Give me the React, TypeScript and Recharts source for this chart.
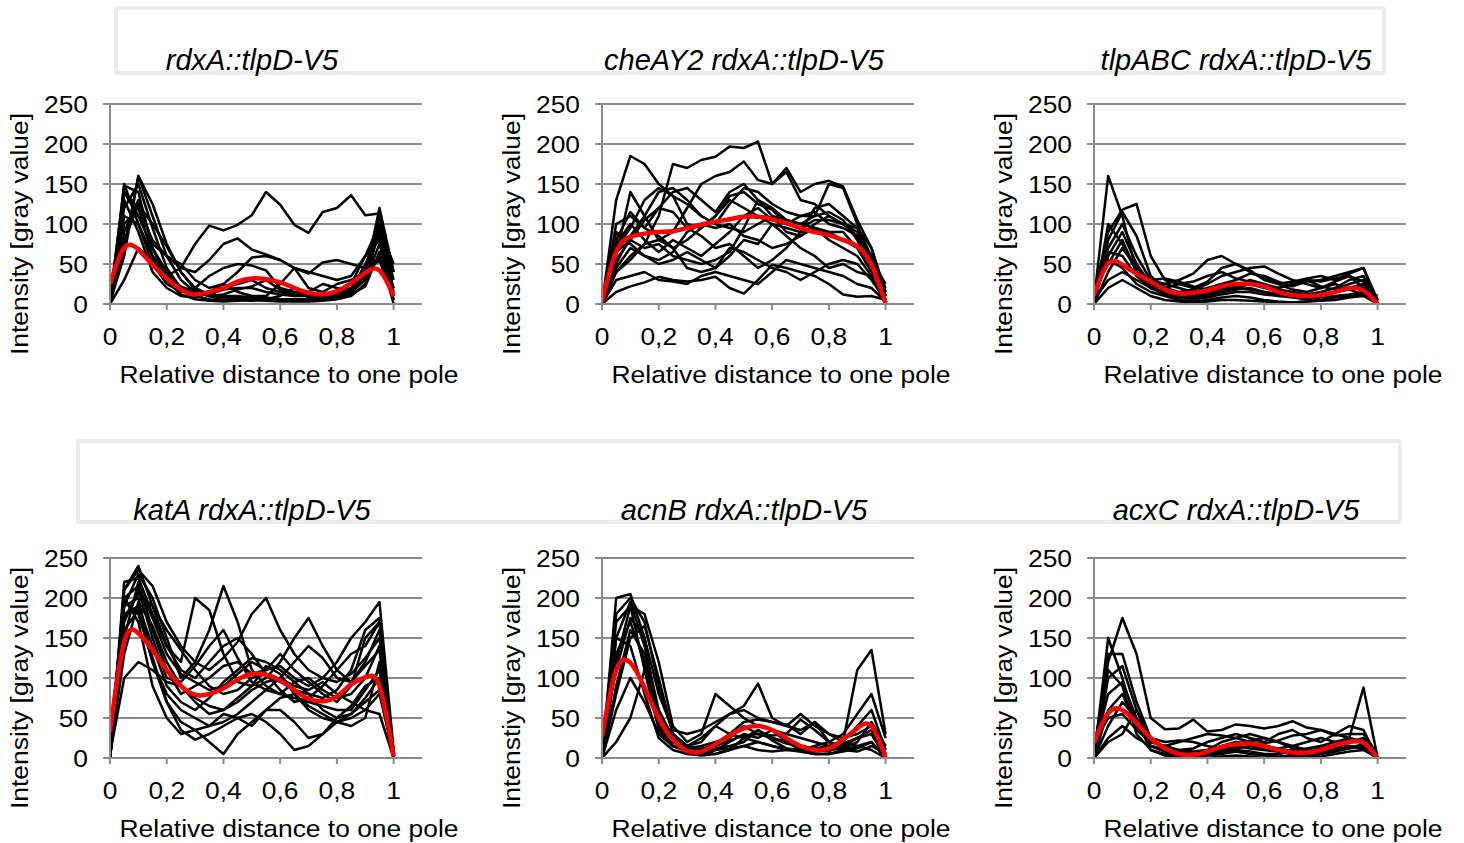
import React from 'react';
import { LineChart, Line, XAxis, YAxis, CartesianGrid } from 'recharts';

// ---------- shared axis data ----------
const X_POS = [0, 0.05, 0.1, 0.15, 0.2, 0.25, 0.3, 0.35, 0.4, 0.45, 0.5, 0.55, 0.6, 0.65, 0.7, 0.75, 0.8, 0.85, 0.9, 0.95, 1];
const X_TICKS = [0, 0.2, 0.4, 0.6, 0.8, 1];
const Y_TICKS = [0, 50, 100, 150, 200, 250];
const X_LABEL = 'Relative distance to one pole';
const TITLES = [
  'rdxA::tlpD-V5',
  'cheAY2 rdxA::tlpD-V5',
  'tlpABC rdxA::tlpD-V5',
  'katA rdxA::tlpD-V5',
  'acnB rdxA::tlpD-V5',
  'acxC rdxA::tlpD-V5',
];
const Y_LABELS = [
  'Intensity [gray value]',
  'Intenstiy [gray value]',
  'Intensity [gray value]',
  'Intensity [gray value]',
  'Intenstiy [gray value]',
  'Intensity [gray value]',
];

// ---------- panel 1: rdxA::tlpD-V5 ----------
const P1_MEAN = [25, 70, 68, 49, 32, 18, 12, 15, 20, 28, 32, 31, 27, 20, 14, 12, 16, 26, 39, 42, 10];
const P1_TRACES = [
  [0, 148, 140, 70, 30, 12, 6, 4, 3, 4, 5, 4, 3, 3, 3, 4, 6, 10, 25, 95, 15],
  [5, 120, 150, 95, 45, 20, 10, 6, 5, 6, 6, 5, 4, 4, 4, 5, 7, 12, 35, 120, 40],
  [0, 70, 160, 110, 60, 30, 15, 10, 8, 8, 7, 6, 5, 5, 5, 6, 8, 15, 45, 110, 10],
  [2, 60, 160, 125, 75, 40, 20, 12, 10, 10, 8, 8, 6, 6, 6, 8, 10, 18, 50, 85, 5],
  [0, 110, 100, 60, 35, 45, 75, 98, 92, 99, 111, 140, 124, 99, 89, 115, 120, 136, 111, 113, 40],
  [10, 140, 120, 80, 60, 45, 40, 55, 75, 82, 68, 62, 55, 45, 40, 35, 30, 35, 60, 100, 30],
  [0, 90, 130, 75, 60, 50, 30, 20, 25, 40, 58, 60, 55, 45, 38, 52, 55, 50, 45, 95, 50],
  [0, 150, 100, 50, 25, 15, 20, 35, 45, 50, 48, 42, 20, 15, 12, 10, 12, 20, 40, 60, 20],
  [3, 130, 90, 40, 20, 10, 8, 15, 20, 25, 30, 20, 15, 10, 15, 25, 20, 15, 30, 75, 10],
  [0, 100, 120, 60, 30, 18, 15, 10, 12, 18, 22, 30, 18, 12, 10, 10, 15, 25, 60, 80, 20],
  [5, 80, 124, 100, 72, 40, 18, 10, 6, 5, 4, 6, 10, 20, 8, 5, 8, 12, 22, 65, 0],
  [0, 140, 110, 70, 40, 20, 12, 15, 25, 15, 10, 10, 25, 45, 20, 15, 25, 30, 40, 55, 5],
  [0, 30, 70, 55, 35, 22, 15, 12, 18, 20, 20, 15, 12, 10, 10, 12, 15, 20, 35, 90, 10],
];

// ---------- panel 2: cheAY2 rdxA::tlpD-V5 ----------
const P2_MEAN = [3, 65, 84, 88, 90, 91, 95, 99, 103, 106, 109, 109, 106, 101, 95, 90, 86, 80, 72, 49, 1];
const P2_TRACES = [
  [0, 130, 185, 175, 150, 135, 125, 110, 100, 95, 90, 100, 110, 105, 100, 95, 90, 80, 70, 50, 10],
  [0, 40, 60, 75, 110, 175, 170, 180, 184, 197, 195, 203, 150, 170, 140, 150, 154, 147, 105, 70, 15],
  [0, 60, 140, 110, 80, 90, 120, 150, 160, 165, 178, 155, 150, 165, 130, 125, 110, 100, 95, 60, 10],
  [0, 80, 115, 95, 120, 140, 145, 130, 115, 140, 150, 130, 120, 105, 100, 110, 150, 145, 100, 50, 5],
  [0, 70, 95, 130, 145, 135, 100, 95, 110, 135, 140, 125, 118, 100, 95, 105, 105, 100, 90, 55, 0],
  [0, 50, 85, 110, 140, 145, 130, 110, 100, 125, 145, 140, 125, 115, 110, 110, 115, 105, 80, 45, 5],
  [0, 100, 110, 95, 85, 70, 80, 95, 110, 130, 120, 110, 100, 95, 90, 120, 125, 110, 95, 70, 10],
  [0, 75, 100, 80, 65, 80, 70, 60, 75, 90, 110, 120, 105, 100, 110, 115, 100, 95, 85, 60, 20],
  [0, 55, 80, 70, 75, 60, 55, 50, 55, 65, 95, 130, 110, 90, 85, 95, 90, 90, 70, 40, 15],
  [0, 40, 55, 75, 80, 70, 45, 40, 45, 60, 80, 75, 100, 85, 70, 60, 45, 50, 40, 35, 0],
  [0, 45, 70, 60, 50, 55, 65, 55, 45, 70, 65, 55, 45, 40, 30, 40, 50, 55, 50, 30, 5],
  [0, 15, 22, 27, 34, 30, 28, 30, 34, 20, 13, 30, 49, 45, 40, 35, 25, 12, 9, 10, 5],
  [0, 30, 35, 40, 30, 28, 25, 35, 40, 35, 30, 25, 40, 55, 50, 45, 40, 35, 25, 20, 3],
  [0, 90, 75, 60, 55, 65, 90, 100, 95, 100, 85, 80, 70, 75, 85, 100, 110, 100, 85, 55, 25],
  [0, 65, 80, 105, 120, 115, 95, 85, 70, 75, 60, 45, 55, 70, 90, 95, 80, 70, 60, 35, 0],
];

// ---------- panel 3: tlpABC rdxA::tlpD-V5 ----------
const P3_MEAN = [11, 51, 49, 38, 28, 18, 13, 14, 17, 22, 25, 25, 22, 15, 11, 10, 11, 15, 20, 17, 0];
const P3_TRACES = [
  [5, 160, 110, 40, 20, 25, 30, 38, 55, 60, 50, 40, 32, 25, 18, 15, 20, 25, 18, 12, 2],
  [10, 90, 118, 125, 60, 30, 25, 20, 28, 45, 50, 42, 30, 25, 28, 32, 35, 30, 38, 45, 5],
  [0, 80, 115, 85, 35, 20, 15, 18, 25, 35, 40, 45, 47, 38, 30, 25, 20, 28, 35, 20, 10],
  [15, 70, 100, 60, 30, 25, 20, 15, 20, 25, 30, 38, 35, 28, 22, 28, 30, 35, 40, 45, 0],
  [5, 60, 90, 50, 25, 18, 12, 10, 15, 20, 22, 30, 25, 20, 25, 30, 22, 18, 25, 30, 3],
  [20, 50, 80, 40, 30, 32, 28, 22, 18, 15, 20, 25, 20, 18, 15, 12, 15, 20, 30, 35, 5],
  [0, 40, 70, 45, 28, 15, 10, 8, 10, 15, 18, 20, 15, 12, 10, 8, 10, 15, 20, 25, 0],
  [10, 65, 60, 35, 20, 12, 8, 6, 8, 12, 15, 15, 12, 10, 8, 6, 8, 10, 12, 15, 2],
  [5, 30, 40, 30, 20, 15, 12, 10, 12, 18, 20, 18, 15, 12, 10, 10, 12, 15, 18, 25, 5],
  [0, 100, 75, 40, 22, 20, 25, 28, 35, 40, 32, 28, 22, 20, 25, 30, 28, 32, 35, 28, 0],
  [15, 55, 45, 25, 15, 10, 5, 3, 5, 8, 10, 8, 5, 3, 2, 3, 5, 8, 10, 12, 0],
  [0, 20, 30, 20, 10, 5, 3, 2, 3, 5, 5, 4, 3, 2, 2, 3, 4, 5, 8, 10, 0],
];

// ---------- panel 4: katA rdxA::tlpD-V5 ----------
const P4_MEAN = [33, 145, 156, 135, 110, 90, 79, 80, 87, 98, 105, 104, 97, 85, 74, 71, 77, 92, 101, 90, 2];
const P4_TRACES = [
  [5, 210, 235, 215, 170, 140, 120, 110, 125, 145, 180, 200, 160, 130, 110, 100, 120, 150, 170, 195, 10],
  [0, 220, 225, 180, 140, 120, 200, 185, 130, 95, 90, 100, 120, 150, 175, 140, 110, 95, 120, 160, 5],
  [10, 190, 230, 200, 150, 100, 120, 160, 215, 170, 110, 90, 80, 95, 100, 85, 75, 80, 100, 140, 0],
  [20, 200, 215, 175, 130, 105, 95, 85, 90, 105, 120, 110, 130, 110, 95, 80, 70, 90, 150, 170, 0],
  [0, 175, 205, 190, 160, 135, 110, 90, 80, 85, 100, 105, 95, 85, 80, 75, 85, 110, 160, 175, 5],
  [0, 150, 220, 160, 110, 80, 90, 100, 115, 120, 105, 110, 115, 100, 90, 100, 95, 105, 125, 150, 0],
  [10, 190, 200, 120, 80, 60, 50, 40, 45, 55, 70, 85, 80, 75, 70, 65, 60, 60, 85, 110, 5],
  [0, 180, 190, 140, 90, 70, 60, 75, 95, 110, 125, 120, 110, 95, 80, 60, 50, 55, 75, 100, 0],
  [5, 100, 120, 110, 95, 90, 75, 65, 60, 70, 85, 95, 100, 90, 85, 95, 80, 70, 60, 55, 0],
  [0, 160, 185, 125, 70, 45, 35, 40, 55, 50, 40, 60, 75, 80, 65, 55, 45, 50, 60, 80, 5],
  [0, 200, 170, 90, 50, 30, 35, 20, 5, 30, 45, 60, 60, 45, 25, 30, 50, 65, 90, 100, 0],
  [15, 195, 180, 120, 70, 35, 23, 30, 40, 50, 55, 45, 30, 10, 15, 30, 45, 55, 70, 85, 0],
  [0, 170, 210, 150, 100, 95, 115, 140, 160, 125, 95, 85, 100, 120, 140, 125, 100, 95, 115, 135, 5],
  [5, 130, 195, 165, 120, 90, 70, 55, 60, 75, 90, 115, 105, 80, 60, 50, 45, 40, 50, 120, 10],
  [0, 210, 240, 190, 140, 110, 100, 120, 140, 150, 130, 105, 85, 70, 75, 90, 110, 130, 140, 170, 0],
];

// ---------- panel 5: acnB rdxA::tlpD-V5 ----------
const P5_MEAN = [27, 110, 119, 88, 50, 23, 9, 8, 17, 28, 37, 40, 35, 25, 15, 10, 12, 23, 37, 40, 0];
const P5_TRACES = [
  [0, 200, 205, 150, 40, 15, 10, 8, 10, 12, 15, 10, 8, 10, 12, 10, 8, 20, 110, 135, 30],
  [10, 180, 200, 170, 90, 30, 15, 20, 40, 30, 25, 20, 15, 12, 10, 15, 20, 30, 55, 80, 25],
  [0, 120, 190, 180, 120, 40, 20, 30, 80, 65, 50, 40, 35, 30, 25, 20, 15, 20, 40, 60, 10],
  [5, 150, 195, 140, 60, 25, 15, 25, 40, 55, 65, 93, 50, 40, 35, 45, 20, 15, 25, 35, 5],
  [0, 90, 160, 130, 50, 20, 12, 10, 18, 30, 45, 48, 45, 40, 55, 40, 30, 20, 15, 10, 0],
  [20, 110, 175, 150, 80, 35, 30, 35, 45, 55, 60, 50, 45, 42, 30, 45, 30, 25, 30, 40, 10],
  [0, 60, 100, 70, 30, 15, 8, 5, 10, 20, 30, 25, 35, 20, 10, 8, 10, 15, 25, 35, 5],
  [5, 150, 140, 80, 25, 10, 5, 3, 5, 10, 15, 20, 15, 10, 8, 5, 5, 8, 12, 20, 0],
  [0, 80, 150, 165, 100, 30, 15, 10, 12, 15, 20, 35, 25, 18, 15, 12, 15, 18, 25, 30, 0],
  [10, 130, 170, 120, 45, 20, 12, 15, 20, 25, 40, 30, 28, 30, 48, 35, 20, 10, 8, 15, 5],
  [0, 20, 50, 110, 60, 25, 15, 8, 5, 10, 25, 35, 22, 12, 8, 5, 5, 10, 15, 20, 0],
  [5, 170, 190, 110, 35, 15, 10, 12, 15, 22, 28, 30, 25, 20, 15, 12, 10, 12, 20, 45, 15],
];

// ---------- panel 6: acxC rdxA::tlpD-V5 ----------
const P6_MEAN = [19, 56, 60, 44, 25, 12, 5, 4, 8, 14, 17, 18, 15, 10, 7, 7, 10, 16, 20, 19, 0];
const P6_TRACES = [
  [10, 120, 175, 130, 50, 36, 37, 48, 33, 35, 42, 40, 37, 40, 46, 38, 35, 30, 25, 20, 0],
  [0, 150, 100, 40, 15, 8, 5, 3, 5, 8, 10, 8, 5, 5, 8, 10, 12, 15, 25, 88, 0],
  [5, 130, 130, 70, 25, 12, 10, 12, 20, 25, 30, 25, 20, 30, 35, 25, 20, 30, 40, 35, 0],
  [0, 100, 115, 60, 20, 15, 20, 25, 30, 28, 25, 20, 18, 22, 28, 30, 35, 28, 30, 30, 5],
  [10, 80, 95, 50, 25, 20, 22, 20, 15, 12, 15, 22, 25, 20, 12, 10, 15, 20, 25, 20, 0],
  [0, 60, 80, 40, 15, 10, 8, 5, 5, 8, 12, 15, 12, 8, 5, 3, 5, 8, 12, 15, 0],
  [20, 50, 55, 35, 20, 15, 10, 8, 10, 15, 20, 18, 15, 12, 15, 20, 25, 20, 15, 12, 0],
  [0, 40, 70, 50, 10, 3, 2, 0, 0, 2, 3, 2, 0, 0, 2, 3, 2, 5, 8, 10, 0],
  [0, 25, 40, 25, 15, 10, 5, 3, 5, 10, 15, 12, 10, 8, 10, 12, 15, 10, 12, 18, 0],
  [5, 110, 90, 30, 10, 5, 3, 2, 3, 5, 8, 5, 3, 2, 3, 5, 8, 10, 15, 12, 0],
  [0, 20, 30, 60, 25, 10, 5, 3, 10, 20, 25, 30, 25, 20, 15, 10, 8, 12, 20, 25, 0],
];

const PANEL_TRACES = [P1_TRACES, P2_TRACES, P3_TRACES, P4_TRACES, P5_TRACES, P6_TRACES];
const PANEL_MEANS = [P1_MEAN, P2_MEAN, P3_MEAN, P4_MEAN, P5_MEAN, P6_MEAN];

// ---------- styling ----------
const FONT = '"Liberation Sans", Arial, sans-serif';
const GRID = '#8a8a8a';
const STRETCH = 1.1;

function buildRows(traces: number[][], mean: number[]) {
  return X_POS.map((x, i) => {
    const row: Record<string, number> = { x, mean: mean[i] };
    traces.forEach((t, j) => {
      row['t' + j] = t[i];
    });
    return row;
  });
}

const XTick = (props: any) => {
  const { x, y, payload } = props;
  return (
    <text
      transform={`translate(${x},${y + 35}) scale(${STRETCH},1)`}
      textAnchor="middle"
      fontSize={24}
      fontFamily={FONT}
      fill="#000"
    >
      {String(payload.value).replace('.', ',')}
    </text>
  );
};

const YTick = (props: any) => {
  const { x, y, payload } = props;
  return (
    <text
      transform={`translate(${x - 15},${y + 8.5}) scale(${STRETCH},1)`}
      textAnchor="end"
      fontSize={24}
      fontFamily={FONT}
      fill="#000"
    >
      {payload.value}
    </text>
  );
};

function Panel({ idx }: { idx: number }) {
  const col = idx % 3;
  const row = Math.floor(idx / 3);
  const plotLeft = 110 + 492 * col;
  const plotTop = 104 + 454 * row;
  const traces = PANEL_TRACES[idx];
  const data = buildRows(traces, PANEL_MEANS[idx]);
  return (
    <div style={{ position: 'absolute', left: plotLeft - 80, top: plotTop - 14 }}>
      <LineChart width={400} height={274} data={data} margin={{ top: 14, right: 8, left: 20, bottom: 0 }}>
        <CartesianGrid vertical={false} stroke={GRID} strokeWidth={2} />
        <XAxis
          dataKey="x"
          type="number"
          domain={[0, 1.1]}
          ticks={X_TICKS}
          allowDataOverflow
          height={60}
          tickSize={6}
          tickMargin={0}
          axisLine={{ stroke: GRID, strokeWidth: 2 }}
          tickLine={{ stroke: GRID, strokeWidth: 2 }}
          tick={XTick}
        />
        <YAxis
          type="number"
          domain={[0, 250]}
          ticks={Y_TICKS}
          allowDataOverflow
          width={60}
          tickSize={7}
          tickMargin={0}
          axisLine={{ stroke: GRID, strokeWidth: 2 }}
          tickLine={{ stroke: GRID, strokeWidth: 2 }}
          tick={YTick}
        />
        {traces.map((_, j) => (
          <Line
            key={j}
            dataKey={'t' + j}
            type="linear"
            stroke="#000"
            strokeWidth={2.5}
            strokeLinejoin="round"
            dot={false}
            activeDot={false}
            isAnimationActive={false}
          />
        ))}
        <Line
          dataKey="mean"
          type="natural"
          stroke="#ff0000"
          strokeWidth={4.5}
          dot={false}
          activeDot={false}
          isAnimationActive={false}
        />
      </LineChart>
    </div>
  );
}

export default function App() {
  return (
    <div style={{ position: 'absolute', left: 0, top: 0, width: 1464, height: 843, background: '#fff' }}>
      <svg width={1464} height={843} style={{ position: 'absolute', left: 0, top: 0 }}>
        <rect x={116} y={8} width={1268} height={65} rx={2} fill="none" stroke="#ececec" strokeWidth={4} />
        <rect x={78} y={441} width={1322} height={81} rx={2} fill="none" stroke="#ececec" strokeWidth={4} />
        {TITLES.map((t, i) => {
          const col = i % 3;
          const row = Math.floor(i / 3);
          return (
            <text
              key={'t' + i}
              x={252 + 492 * col}
              y={row ? 520 : 70}
              textAnchor="middle"
              fontSize={29}
              fontStyle="italic"
              fontFamily={FONT}
              fill="#000"
            >
              {t}
            </text>
          );
        })}
        {Y_LABELS.map((t, i) => {
          const col = i % 3;
          const row = Math.floor(i / 3);
          return (
            <text
              key={'y' + i}
              transform={`translate(${28 + 492 * col},${234 + 454 * row}) rotate(-90) scale(${STRETCH},1)`}
              textAnchor="middle"
              fontSize={24}
              fontFamily={FONT}
              fill="#000"
            >
              {t}
            </text>
          );
        })}
        {TITLES.map((_, i) => {
          const col = i % 3;
          const row = Math.floor(i / 3);
          return (
            <text
              key={'x' + i}
              transform={`translate(${289 + 492 * col},${383 + 454 * row}) scale(${STRETCH},1)`}
              textAnchor="middle"
              fontSize={24}
              fontFamily={FONT}
              fill="#000"
            >
              {X_LABEL}
            </text>
          );
        })}
      </svg>
      {TITLES.map((_, i) => (
        <Panel key={i} idx={i} />
      ))}
    </div>
  );
}
